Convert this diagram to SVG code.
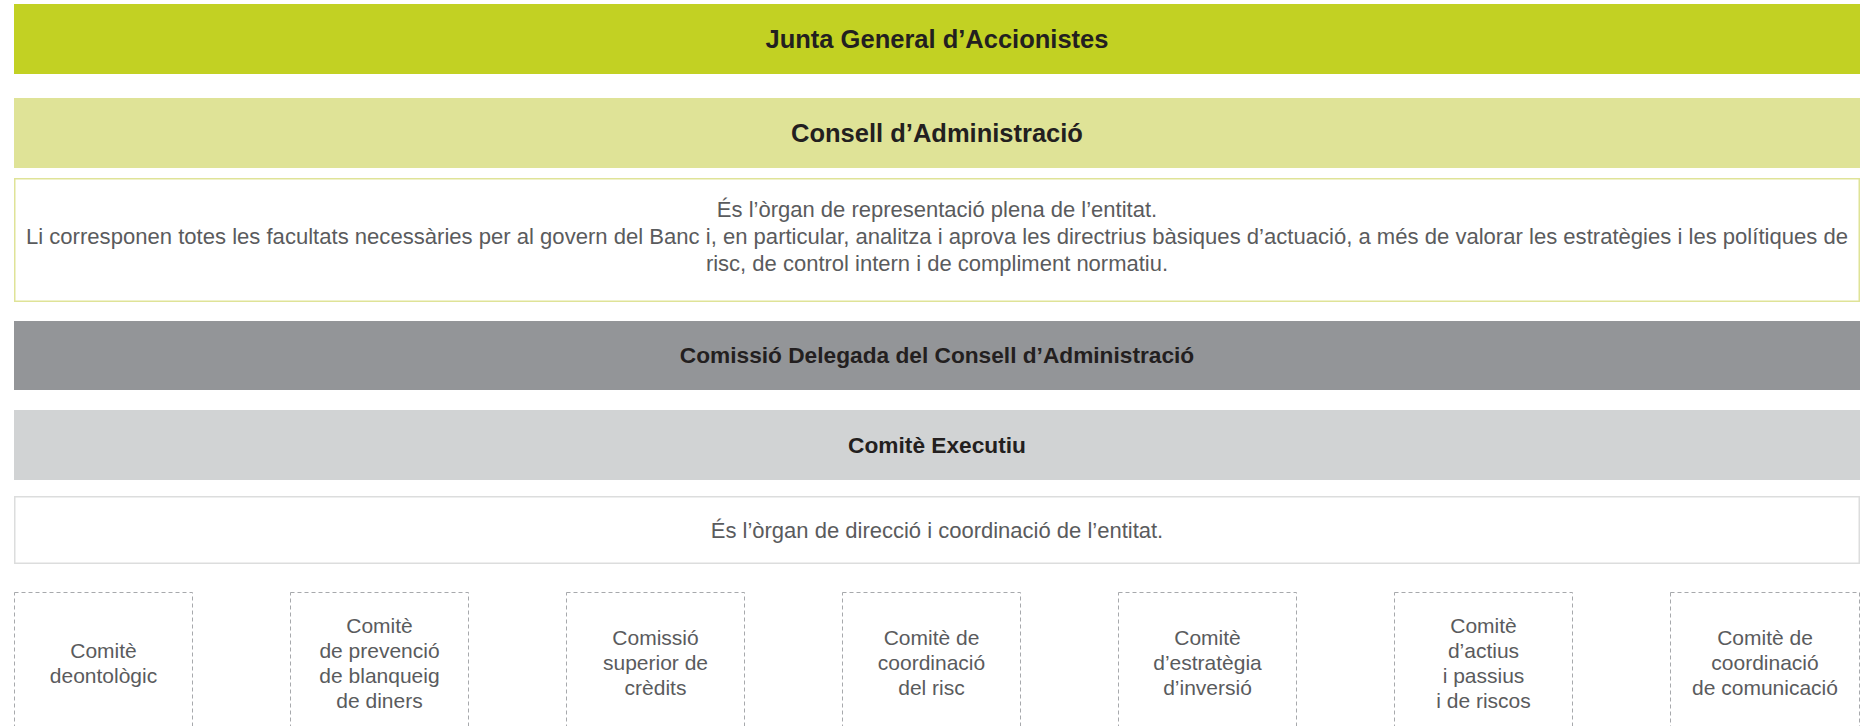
<svg xmlns="http://www.w3.org/2000/svg" width="1869" height="726" viewBox="0 0 1869 726">
<style>
.title{font-family:"Liberation Sans",Arial,sans-serif;font-weight:bold;fill:#231f20;text-anchor:middle}
.t1{font-size:25.5px}
.t2{font-size:22.7px}
.body{font-family:"Liberation Sans",Arial,sans-serif;font-size:22px;fill:#5a5b5d;text-anchor:middle}
.small{font-family:"Liberation Sans",Arial,sans-serif;font-size:21px;fill:#5a5b5d;text-anchor:middle}
.dash{fill:#ffffff;stroke:#a7a9ac;stroke-width:1;stroke-dasharray:4 3}
</style>
<rect width="1869" height="726" fill="#ffffff"/>
<g id="junta">
<rect x="14" y="4" width="1846" height="70" fill="#c2d123"/>
<text class="title t1" x="937" y="48">Junta General d’Accionistes</text>
</g>
<g id="consell">
<rect x="14" y="98" width="1846" height="70" fill="#dfe397"/>
<text class="title t1" x="937" y="142">Consell d’Administració</text>
</g>
<g id="consell-desc">
<rect x="14.75" y="178.75" width="1844.5" height="122.5" fill="#ffffff" stroke="#dfe397" stroke-width="1.5"/>
<text class="body" x="937" y="217">És l’òrgan de representació plena de l’entitat.</text>
<text class="body" x="937" y="244" textLength="1822" lengthAdjust="spacingAndGlyphs">Li corresponen totes les facultats necessàries per al govern del Banc i, en particular, analitza i aprova les directrius bàsiques d’actuació, a més de valorar les estratègies i les polítiques de</text>
<text class="body" x="937" y="271">risc, de control intern i de compliment normatiu.</text>
</g>
<g id="comissio">
<rect x="14" y="321" width="1846" height="69" fill="#939598"/>
<text class="title t2" x="937" y="363">Comissió Delegada del Consell d’Administració</text>
</g>
<g id="comite-executiu">
<rect x="14" y="410" width="1846" height="70" fill="#d1d3d4"/>
<text class="title t2" x="937" y="453">Comitè Executiu</text>
</g>
<g id="executiu-desc">
<rect x="14.75" y="496.75" width="1844.5" height="66.5" fill="#ffffff" stroke="#dcdddd" stroke-width="1.5"/>
<text class="body" x="937" y="538">És l’òrgan de direcció i coordinació de l’entitat.</text>
</g>
<g id="c1">
<rect class="dash" x="14.5" y="592.5" width="178" height="170"/>
<text class="small" x="103.5" y="658">Comitè</text>
<text class="small" x="103.5" y="683">deontològic</text>
</g>
<g id="c2">
<rect class="dash" x="290.5" y="592.5" width="178" height="170"/>
<text class="small" x="379.5" y="633">Comitè</text>
<text class="small" x="379.5" y="658">de prevenció</text>
<text class="small" x="379.5" y="683">de blanqueig</text>
<text class="small" x="379.5" y="708">de diners</text>
</g>
<g id="c3">
<rect class="dash" x="566.5" y="592.5" width="178" height="170"/>
<text class="small" x="655.5" y="645">Comissió</text>
<text class="small" x="655.5" y="670">superior de</text>
<text class="small" x="655.5" y="695">crèdits</text>
</g>
<g id="c4">
<rect class="dash" x="842.5" y="592.5" width="178" height="170"/>
<text class="small" x="931.5" y="645">Comitè de</text>
<text class="small" x="931.5" y="670">coordinació</text>
<text class="small" x="931.5" y="695">del risc</text>
</g>
<g id="c5">
<rect class="dash" x="1118.5" y="592.5" width="178" height="170"/>
<text class="small" x="1207.5" y="645">Comitè</text>
<text class="small" x="1207.5" y="670">d’estratègia</text>
<text class="small" x="1207.5" y="695">d’inversió</text>
</g>
<g id="c6">
<rect class="dash" x="1394.5" y="592.5" width="178" height="170"/>
<text class="small" x="1483.5" y="633">Comitè</text>
<text class="small" x="1483.5" y="658">d’actius</text>
<text class="small" x="1483.5" y="683">i passius</text>
<text class="small" x="1483.5" y="708">i de riscos</text>
</g>
<g id="c7">
<rect class="dash" x="1670.5" y="592.5" width="189" height="170"/>
<text class="small" x="1765" y="645">Comitè de</text>
<text class="small" x="1765" y="670">coordinació</text>
<text class="small" x="1765" y="695">de comunicació</text>
</g>
<g id="connectors"/>
</svg>
